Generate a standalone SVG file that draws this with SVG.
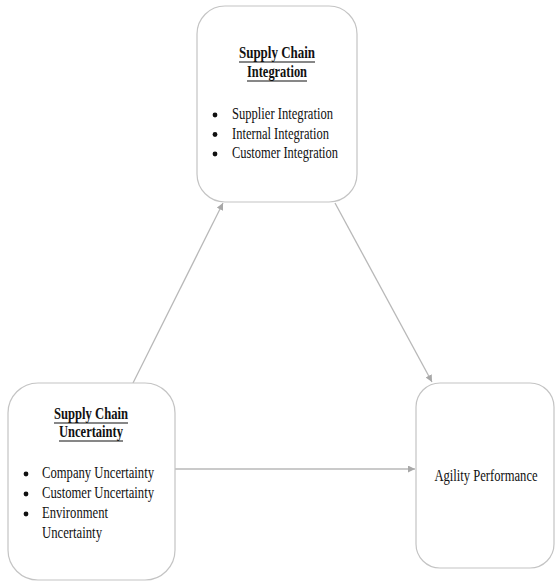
<svg xmlns="http://www.w3.org/2000/svg" width="555" height="583" viewBox="0 0 555 583">
<style>
.box{fill:#fff;stroke:#c4c4c4;stroke-width:1.2}
.t{font-family:"Liberation Serif","Times New Roman",serif;font-size:16px;fill:#111}
.b{font-weight:bold;text-anchor:middle}
.m{text-anchor:middle}
.ul{stroke:#111;stroke-width:1.2}
.dot{fill:#111}
.con{stroke:#b8b8b8;stroke-width:1.3;fill:none;marker-end:url(#ah)}
</style>
<defs>
<marker id="ah" viewBox="0 0 10 10" refX="10" refY="5" markerWidth="7" markerHeight="7" markerUnits="userSpaceOnUse" orient="auto">
<path d="M0,0 L10,5 L0,10 z" fill="#a8a8a8"/>
</marker>
</defs>
<rect width="555" height="583" fill="#fff"/>
<g id="connectors">
<line class="con" x1="133" y1="383" x2="223" y2="203"/>
<line class="con" x1="335" y1="203" x2="432" y2="382"/>
<line class="con" x1="175" y1="469" x2="415" y2="469"/>
</g>
<g id="node-integration">
<rect class="box" x="197" y="6" width="160" height="196" rx="28" ry="28"/>
<text class="t b" x="277" y="58" textLength="76" lengthAdjust="spacingAndGlyphs">Supply Chain</text>
<line class="ul" x1="239" y1="62" x2="315" y2="62"/>
<text class="t b" x="277" y="77" textLength="60" lengthAdjust="spacingAndGlyphs">Integration</text>
<line class="ul" x1="247" y1="81" x2="307" y2="81"/>
<circle class="dot" cx="215" cy="115" r="2.4"/>
<circle class="dot" cx="215" cy="134.5" r="2.4"/>
<circle class="dot" cx="215" cy="154" r="2.4"/>
<text class="t" x="232" y="119" textLength="101" lengthAdjust="spacingAndGlyphs">Supplier Integration</text>
<text class="t" x="232" y="138.5" textLength="97" lengthAdjust="spacingAndGlyphs">Internal Integration</text>
<text class="t" x="232" y="158" textLength="106" lengthAdjust="spacingAndGlyphs">Customer Integration</text>
</g>
<g id="node-uncertainty">
<rect class="box" x="8" y="383" width="167" height="197" rx="30" ry="30"/>
<text class="t b" x="91" y="419" textLength="74" lengthAdjust="spacingAndGlyphs">Supply Chain</text>
<line class="ul" x1="54" y1="423" x2="128" y2="423"/>
<text class="t b" x="91" y="437" textLength="64" lengthAdjust="spacingAndGlyphs">Uncertainty</text>
<line class="ul" x1="59" y1="441" x2="123" y2="441"/>
<circle class="dot" cx="26" cy="474" r="2.4"/>
<circle class="dot" cx="26" cy="494" r="2.4"/>
<circle class="dot" cx="26" cy="514" r="2.4"/>
<text class="t" x="42" y="478" textLength="112" lengthAdjust="spacingAndGlyphs">Company Uncertainty</text>
<text class="t" x="42" y="498" textLength="112" lengthAdjust="spacingAndGlyphs">Customer Uncertainty</text>
<text class="t" x="42" y="518" textLength="66" lengthAdjust="spacingAndGlyphs">Environment</text>
<text class="t" x="42" y="538" textLength="60" lengthAdjust="spacingAndGlyphs">Uncertainty</text>
</g>
<g id="node-agility">
<rect class="box" x="416" y="383" width="138" height="185" rx="24" ry="24"/>
<text class="t m" x="486" y="481" style="font-size:13px" transform="translate(486 481) scale(0.97 1.23) translate(-486 -481)">Agility Performance</text>
</g>
</svg>
